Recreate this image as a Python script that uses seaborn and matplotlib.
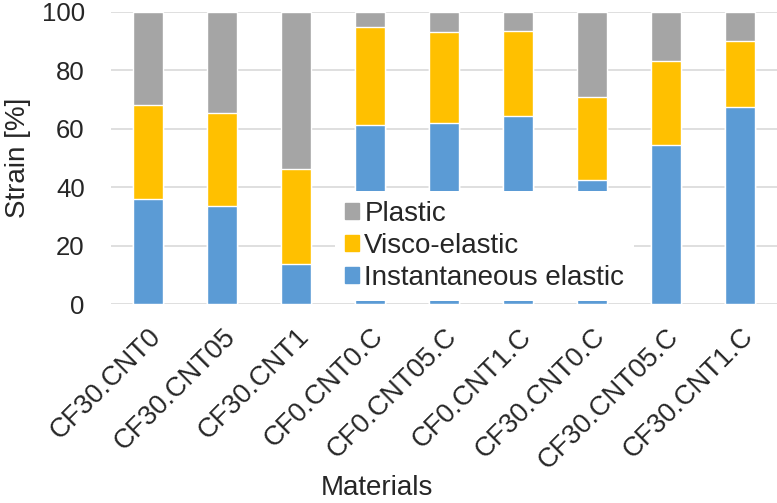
import numpy as np
import pandas as pd
import matplotlib
matplotlib.use("Agg")
import matplotlib.pyplot as plt
from matplotlib.patches import Patch
import seaborn as sns


### data (strain components, %)
materials = ["CF30.CNT0", "CF30.CNT05", "CF30.CNT1", "CF0.CNT0.C", "CF0.CNT05.C",
             "CF0.CNT1.C", "CF30.CNT0.C", "CF30.CNT05.C", "CF30.CNT1.C"]
inst_elastic = [35.8, 33.4, 13.7, 61.1, 62.0, 64.4, 42.4, 54.4, 67.2]
visco_elastic = [32.1, 32.0, 32.6, 33.7, 30.9, 29.0, 28.4, 28.8, 22.8]
plastic = [32.1, 34.6, 53.7, 5.2, 7.1, 6.6, 29.2, 16.8, 10.0]

blue = "#5B9BD5"
yellow = "#FFC000"
gray = "#A5A5A5"

df = pd.DataFrame({"material": materials,
                   "inst": inst_elastic,
                   "visco": visco_elastic,
                   "plastic": plastic})
df["lvl2"] = df["inst"] + df["visco"]
df["lvl3"] = df["lvl2"] + df["plastic"]

sns.set_style("white")
plt.rcParams["font.family"] = ["Liberation Sans", "DejaVu Sans"]

fig = plt.figure(figsize=(7.77, 5.03), dpi=100)
ax = fig.add_axes([0.1429, 0.3956, 0.8571, 0.5815])

### stacked by drawing cumulative totals back to front
for col, c in [("lvl3", gray), ("lvl2", yellow), ("inst", blue)]:
    sns.barplot(data=df, x="material", y=col, color=c, width=0.4,
                saturation=1, ax=ax, zorder=2)

ax.set_ylim(0, 100)
ax.set_xlim(-0.5, len(materials) - 0.5)
ax.set_yticks(np.arange(0, 101, 20))
ax.yaxis.grid(True, color="#D9D9D9", linewidth=1.2, zorder=0)
ax.set_axisbelow(True)
for s in ax.spines.values():
    s.set_visible(False)
ax.tick_params(axis="y", length=0, labelsize=18.5, pad=19)
ax.tick_params(axis="x", length=0, labelsize=19.5, pad=14)
plt.setp(ax.get_xticklabels(), rotation=45, ha="right", rotation_mode="anchor")

ax.set_ylabel("Strain [%]", fontsize=20)
ax.yaxis.set_label_coords(-0.12, 0.5)
ax.set_xlabel("Materials", fontsize=20)
ax.xaxis.set_label_coords(0.40, -0.585)

handles = [Patch(color=gray), Patch(color=yellow), Patch(color=blue)]
leg = ax.legend(handles, ["Plastic", "Visco-elastic", "Instantaneous elastic"],
                loc="center", bbox_to_anchor=(0.561, 0.198), fontsize=20,
                frameon=True, facecolor="white", edgecolor="none", framealpha=1,
                handlelength=0.5, handleheight=0.5, handletextpad=0.2,
                borderpad=0.35, labelspacing=0.22, borderaxespad=0)
leg.set_zorder(5)

fig.savefig("out.png", dpi=100)
